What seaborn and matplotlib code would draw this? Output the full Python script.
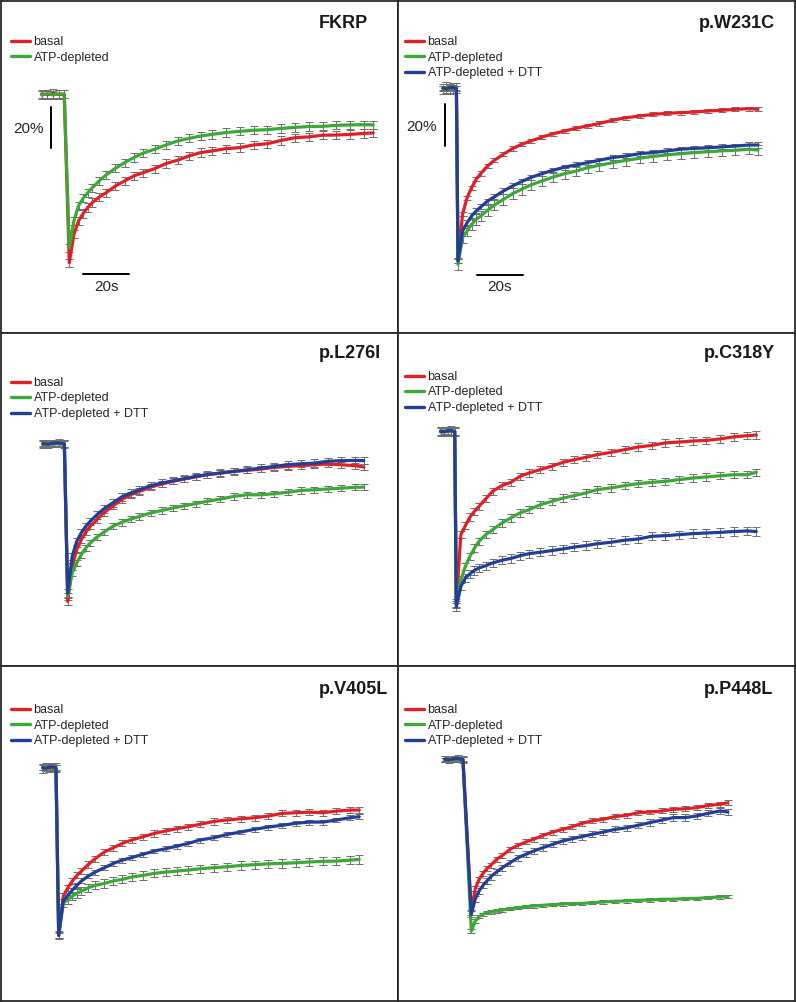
import numpy as np
import pandas as pd
import matplotlib
matplotlib.use("Agg")
import matplotlib.pyplot as plt
from matplotlib.lines import Line2D
import seaborn as sns

sns.set_theme(style="white")
plt.rcParams["font.family"] = ["Liberation Sans", "DejaVu Sans"]

# ---------------- data ----------------
CONDITIONS = ["basal", "ATP-depleted", "ATP-depleted + DTT"]
COLORS = {"basal": "#e41e25", "ATP-depleted": "#3aa936", "ATP-depleted + DTT": "#213f97"}

# recovery time points (s after bleach)
REC_T = [0, 2, 4, 6, 8, 10, 13, 16, 20, 24, 28, 32, 37, 42, 47, 52, 57, 62, 68, 74,
         80, 86, 92, 98, 104, 110, 116, 122, 128, 132]

# pre-bleach fluorescence (% of initial)
PRE_BASAL = [100.2, 99.8, 100.4, 99.9, 100.0]
PRE_ATP = [99.6, 100.3, 99.7, 100.2, 100.1]
PRE_DTT = [100.0, 99.7, 100.2, 100.4, 99.9]

# pre-bleach time points per panel (s)
FKRP_PRE_T = [-12.0, -9.5, -7.0, -4.5, -2.2]
W231C_PRE_T = [-6.6, -5.1, -3.7, -2.2, -0.7]
L276I_PRE_T = [-11.1, -8.7, -6.3, -3.9, -1.5]
C318Y_PRE_T = [-6.9, -5.4, -3.8, -2.3, -0.7]
V405L_PRE_T = [-7.0, -5.5, -4.1, -2.6, -1.2]
P448L_PRE_T = [-13.7, -11.4, -9.0, -6.7, -4.3]

# recovery curves (% of pre-bleach)
FKRP_BASAL = [18.5, 32.3, 38.7, 42.3, 45.2, 47.6, 50.3, 52.4, 55.6, 58.1, 60.5, 62.1, 64.0, 66.5, 68.1,
              70.2, 71.8, 72.6, 73.7, 74.2, 75.5, 76.1, 77.7, 79.0, 79.4, 80.2, 80.3, 80.6, 81.1, 81.3]
FKRP_ATP = [25.8, 38.7, 46.0, 49.7, 52.4, 54.8, 58.1, 61.0, 64.2, 66.9, 69.4, 71.5, 73.4, 75.5, 77.4,
            78.7, 79.8, 80.6, 81.5, 82.1, 82.6, 82.9, 83.5, 84.0, 84.4, 84.5, 85.0, 85.2, 85.3, 85.2]

W231C_BASAL = [17.8, 40.0, 47.9, 52.7, 56.7, 59.4, 63.0, 65.7, 68.6, 71.3, 73.3, 74.9, 76.8, 78.4, 79.7,
               81.0, 82.1, 83.2, 84.8, 86.0, 86.8, 87.6, 88.1, 88.4, 88.7, 89.2, 89.5, 90.0, 90.3, 90.0]
W231C_ATP = [16.2, 28.9, 32.1, 35.2, 37.6, 39.2, 41.9, 44.4, 47.1, 49.8, 51.9, 54.0, 55.9, 57.8, 59.4,
             60.6, 62.2, 63.3, 64.6, 65.7, 66.7, 67.6, 68.3, 68.9, 69.4, 69.8, 70.2, 70.5, 71.0, 70.6]
W231C_DTT = [17.8, 32.1, 36.0, 39.2, 41.6, 43.5, 46.3, 48.3, 51.1, 53.5, 55.6, 57.5, 59.4, 61.0, 62.5,
             63.5, 64.6, 65.7, 67.0, 67.8, 68.9, 69.4, 70.2, 71.0, 71.4, 71.7, 72.1, 72.5, 73.0, 73.0]

L276I_BASAL = [23.7, 40.6, 48.7, 53.5, 57.1, 60.0, 63.2, 66.5, 69.7, 72.9, 75.3, 76.9, 79.0, 80.5, 81.8,
               82.9, 83.9, 85.0, 85.8, 86.6, 87.1, 87.7, 88.5, 89.0, 89.4, 89.8, 90.2, 89.8, 89.4, 88.7]
L276I_ATP = [26.1, 37.4, 42.3, 46.3, 49.5, 51.9, 54.8, 57.1, 60.0, 61.9, 63.5, 64.8, 66.5, 67.7, 68.9,
             70.0, 71.0, 72.1, 73.2, 74.5, 75.3, 75.3, 75.8, 76.5, 77.4, 77.7, 78.1, 78.5, 78.9, 79.0]
L276I_DTT = [27.7, 45.5, 52.7, 56.8, 60.0, 62.4, 65.6, 68.4, 71.3, 74.2, 76.1, 77.7, 79.7, 81.0, 82.1,
             83.1, 84.2, 85.0, 85.8, 86.6, 87.4, 88.2, 89.0, 89.8, 90.3, 90.6, 91.5, 91.8, 91.9, 91.8]

C318Y_BASAL = [16.9, 50.0, 54.4, 58.5, 61.3, 63.7, 67.4, 71.0, 73.7, 75.3, 78.2, 79.8, 81.5, 83.1, 85.0,
               86.3, 87.4, 88.7, 89.8, 91.1, 92.4, 93.2, 94.4, 94.8, 95.3, 95.6, 96.3, 97.3, 97.9, 98.2]
C318Y_ATP = [16.1, 28.2, 34.7, 39.5, 43.5, 46.8, 50.0, 52.4, 55.6, 58.1, 60.5, 62.1, 64.5, 66.1, 67.7,
             68.9, 70.2, 71.8, 72.6, 73.7, 74.7, 75.3, 75.8, 76.6, 77.4, 77.9, 78.5, 79.0, 79.0, 80.2]
C318Y_DTT = [15.0, 25.0, 29.0, 31.1, 32.7, 33.9, 35.0, 36.3, 37.6, 38.5, 39.8, 40.8, 41.5, 42.3, 43.1,
             44.0, 44.7, 45.6, 46.3, 47.3, 47.9, 49.2, 49.5, 50.0, 50.5, 50.8, 51.1, 51.5, 51.8, 51.5]

V405L_BASAL = [18.9, 37.9, 41.9, 45.2, 47.9, 50.0, 53.2, 56.0, 59.2, 61.3, 63.4, 65.0, 66.6, 68.2, 69.4,
               70.5, 71.5, 72.6, 74.0, 74.7, 75.3, 75.8, 76.6, 77.9, 78.2, 78.5, 78.2, 79.0, 79.5, 79.5]
V405L_ATP = [18.9, 34.4, 36.3, 37.9, 39.2, 40.3, 41.9, 43.1, 44.0, 45.2, 46.0, 47.1, 47.9, 48.9, 49.5,
             50.0, 50.5, 51.1, 51.6, 52.1, 52.7, 53.1, 53.5, 53.7, 54.0, 54.4, 54.7, 54.8, 55.3, 55.6]
V405L_DTT = [18.9, 35.5, 38.2, 40.8, 43.1, 45.2, 47.6, 49.5, 51.6, 53.7, 55.3, 56.5, 58.1, 59.7, 60.8,
             62.1, 63.4, 65.0, 66.1, 67.7, 68.9, 70.2, 71.3, 72.1, 73.1, 73.7, 73.7, 74.7, 75.8, 76.3]

P448L_BASAL = [25.8, 37.4, 41.9, 44.8, 47.1, 48.7, 51.6, 53.5, 56.5, 58.4, 60.0, 61.3, 63.2, 64.8, 66.1,
               67.4, 69.0, 70.2, 71.0, 72.3, 72.9, 74.2, 74.5, 75.0, 75.8, 76.1, 76.6, 77.7, 78.2, 79.0]
P448L_ATP = [16.9, 21.8, 23.9, 25.0, 25.8, 26.1, 26.6, 27.1, 27.7, 28.2, 28.7, 29.0, 29.4, 29.7, 30.0,
             30.2, 30.3, 30.6, 31.0, 31.3, 31.5, 31.8, 31.9, 32.3, 32.3, 32.6, 32.7, 33.1, 33.4, 33.5]
P448L_DTT = [25.0, 32.3, 36.3, 39.0, 41.1, 43.2, 45.5, 47.6, 50.0, 52.4, 54.0, 55.6, 57.3, 58.9, 60.5,
             61.6, 62.6, 63.7, 64.8, 66.1, 66.9, 68.1, 69.4, 70.6, 71.8, 71.8, 72.6, 73.9, 75.0, 74.5]

# SEM per curve (%)
SEM = {
    "FKRP": [2.0, 2.0],
    "p.W231C": [1.0, 2.5, 1.2],
    "p.L276I": [1.5, 1.5, 1.8],
    "p.C318Y": [1.8, 1.8, 2.0],
    "p.V405L": [1.5, 2.0, 1.2],
    "p.P448L": [1.2, 0.8, 1.5],
}

PANELS = [
    ("FKRP", FKRP_PRE_T, [FKRP_BASAL, FKRP_ATP]),
    ("p.W231C", W231C_PRE_T, [W231C_BASAL, W231C_ATP, W231C_DTT]),
    ("p.L276I", L276I_PRE_T, [L276I_BASAL, L276I_ATP, L276I_DTT]),
    ("p.C318Y", C318Y_PRE_T, [C318Y_BASAL, C318Y_ATP, C318Y_DTT]),
    ("p.V405L", V405L_PRE_T, [V405L_BASAL, V405L_ATP, V405L_DTT]),
    ("p.P448L", P448L_PRE_T, [P448L_BASAL, P448L_ATP, P448L_DTT]),
]
PRES = [PRE_BASAL, PRE_ATP, PRE_DTT]

SCALE_S = 20
SCALE_PCT = 20

# ---------------- layout (pixels) ----------------
FIG_W, FIG_H = 796, 1002
COL_EDGES = [1, 398, 795]
ROW_EDGES = [1, 333, 666, 1001]
LAYOUT = [
    dict(bx=68.3, py=93.3, sx=2.303, sy=2.067, tr=30, ty=22, lx=10, ly=40),
    dict(bx=60.0, py=87.3, sx=2.273, sy=2.10, tr=20, ty=22, lx=7, ly=40),
    dict(bx=66.7, py=110.7, sx=2.243, sy=2.067, tr=17, ty=20, lx=10, ly=49),
    dict(bx=58.3, py=98.3, sx=2.273, sy=2.067, tr=20, ty=20, lx=7, ly=43),
    dict(bx=57.7, py=101.7, sx=2.277, sy=2.067, tr=10, ty=23, lx=10, ly=43),
    dict(bx=73.3, py=93.3, sx=1.944, sy=2.067, tr=22, ty=23, lx=7, ly=43),
]
SCALEBARS = {
    0: dict(vt=-8.0, vtop=94.0, lt=-11.1, ly=83.2, hy=13.0, ht=6.0, sy=6.8),
    1: dict(vt=-5.9, vtop=92.7, lt=-9.5, ly=81.6, hy=11.1, ht=8.4, sy=5.4),
}

fig = plt.figure(figsize=(FIG_W / 100, FIG_H / 100), dpi=100)

for i, (name, pre_t, curves) in enumerate(PANELS):
    r, c = divmod(i, 2)
    x0, x1 = COL_EDGES[c], COL_EDGES[c + 1]
    y0, y1 = ROW_EDGES[r], ROW_EDGES[r + 1]
    W, H = x1 - x0, y1 - y0
    ax = fig.add_axes([x0 / FIG_W, 1 - y1 / FIG_H, W / FIG_W, H / FIG_H])
    L = LAYOUT[i]

    rows = []
    conds = CONDITIONS[:len(curves)]
    for j, (cond, rec) in enumerate(zip(conds, curves)):
        ts = list(pre_t) + REC_T
        vs = PRES[j][:len(pre_t)] + rec
        for k, (t, v) in enumerate(zip(ts, vs)):
            rows.append(dict(condition=cond, t=t, value=v, err=SEM[name][j], order=k))
    df = pd.DataFrame(rows)

    for j, cond in enumerate(conds):
        d = df[df["condition"] == cond]
        ax.errorbar(d["t"], d["value"], yerr=d["err"], fmt="none", ecolor="#6e6e6e",
                    elinewidth=0.7, capsize=2.6, capthick=0.7, zorder=1.5 + j)
    sns.lineplot(data=df, x="t", y="value", hue="condition", hue_order=conds,
                 palette=COLORS, estimator=None, sort=False, units="condition",
                 linewidth=2.3, legend=False, ax=ax)
    for j, line in enumerate(ax.get_lines()):
        line.set_zorder(2 + j)

    ax.set_xlim(-L["bx"] / L["sx"], (W - L["bx"]) / L["sx"])
    ax.set_ylim(100 - (H - L["py"]) / L["sy"], 100 + L["py"] / L["sy"])
    ax.set_xticks([])
    ax.set_yticks([])
    ax.set_xlabel("")
    ax.set_ylabel("")
    for s in ax.spines.values():
        s.set_visible(True)
        s.set_color("#2a2a2a")
        s.set_linewidth(1.3)

    ax.text(1 - L["tr"] / W, 1 - L["ty"] / H, name, transform=ax.transAxes,
            ha="right", va="center", fontsize=13, fontweight="bold", color="#1a1a1a")

    handles = [Line2D([], [], color=COLORS[cnd], lw=2.4) for cnd in conds]
    ax.legend(handles, conds, loc="upper left",
              bbox_to_anchor=(L["lx"] / W, 1 - (L["ly"] - 5) / H),
              frameon=False, fontsize=9, handlelength=1.5, handletextpad=0.3,
              labelspacing=0.28, borderpad=0, borderaxespad=0)

    if i in SCALEBARS:
        sb = SCALEBARS[i]
        ax.plot([sb["vt"], sb["vt"]], [sb["vtop"], sb["vtop"] - SCALE_PCT], color="black", lw=1.4)
        ax.text(sb["lt"], sb["ly"], f"{SCALE_PCT}%", ha="right", va="center", fontsize=11)
        ax.plot([sb["ht"], sb["ht"] + SCALE_S], [sb["hy"], sb["hy"]], color="black", lw=1.4)
        ax.text(sb["ht"] + SCALE_S / 2, sb["sy"], f"{SCALE_S}s", ha="center", va="center", fontsize=11)

fig.savefig("out.png", dpi=100)
